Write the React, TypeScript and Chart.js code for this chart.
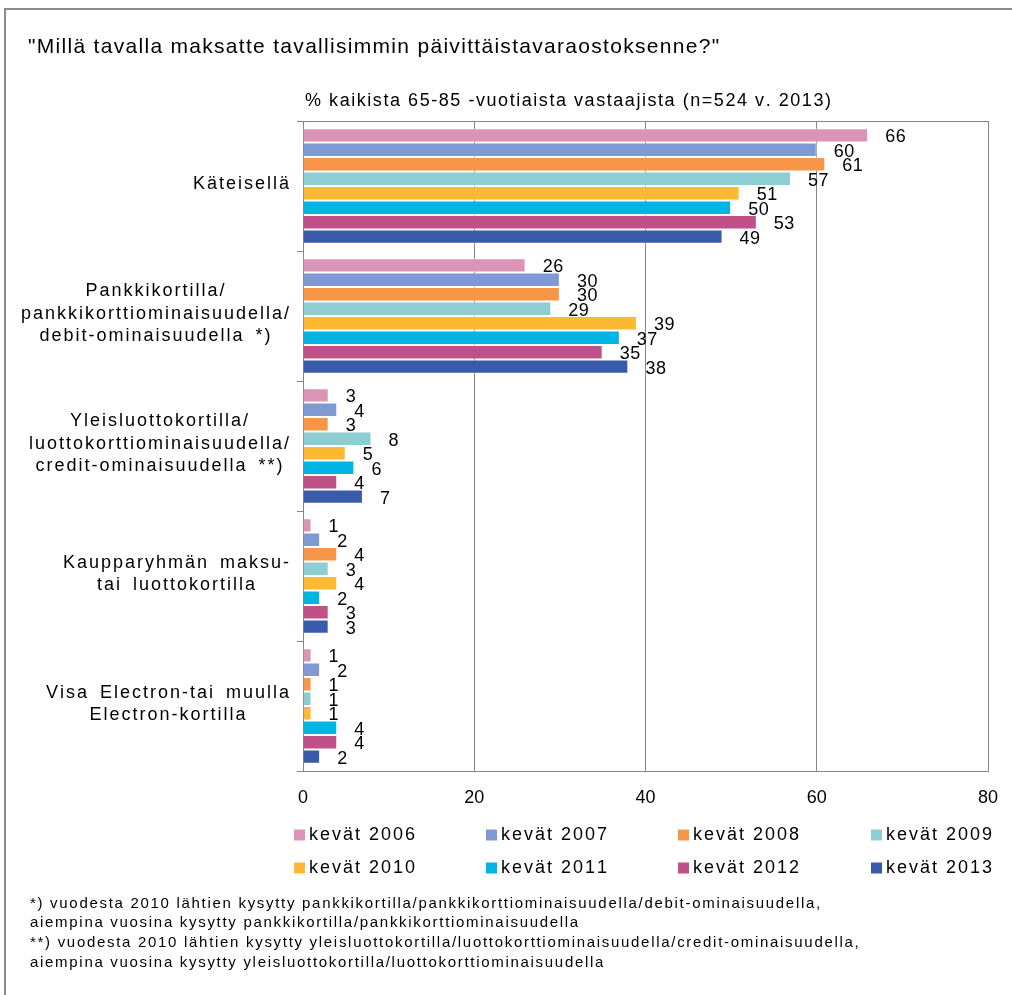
import React, { useEffect, useRef } from "react";
import { Chart, registerables } from "chart.js";
Chart.register(...registerables);

const titleText = '"Millä tavalla maksatte tavallisimmin päivittäistavaraostoksenne?"';
const subtitleText = "% kaikista 65-85 -vuotiaista vastaajista (n=524 v. 2013)";
const categories: string[][] = [
  ["Käteisellä"],
  ["Pankkikortilla/", "pankkikorttiominaisuudella/", "debit-ominaisuudella *)"],
  ["Yleisluottokortilla/", "luottokorttiominaisuudella/", "credit-ominaisuudella **)"],
  ["Kaupparyhmän maksu-", "tai luottokortilla"],
  ["Visa Electron-tai muulla", "Electron-kortilla"],
];
const seriesNames = ["kevät 2006", "kevät 2007", "kevät 2008", "kevät 2009", "kevät 2010", "kevät 2011", "kevät 2012", "kevät 2013"];
const v2006 = [66, 26, 3, 1, 1];
const v2007 = [60, 30, 4, 2, 2];
const v2008 = [61, 30, 3, 4, 1];
const v2009 = [57, 29, 8, 3, 1];
const v2010 = [51, 39, 5, 4, 1];
const v2011 = [50, 37, 6, 2, 4];
const v2012 = [53, 35, 4, 3, 4];
const v2013 = [49, 38, 7, 3, 2];
const seriesValues = [v2006, v2007, v2008, v2009, v2010, v2011, v2012, v2013];
const seriesColors = ["#DB94B6", "#7F99D3", "#F79646", "#8ECED3", "#FDB931", "#00B4E3", "#C05188", "#3A5BAA"];
const xTicks = [0, 20, 40, 60, 80];
const footnotes = [
  "*) vuodesta 2010 lähtien kysytty pankkikortilla/pankkikorttiominaisuudella/debit-ominaisuudella,",
  "aiempina vuosina kysytty pankkikortilla/pankkikorttiominaisuudella",
  "**) vuodesta 2010 lähtien kysytty yleisluottokortilla/luottokorttiominaisuudella/credit-ominaisuudella,",
  "aiempina vuosina kysytty yleisluottokortilla/luottokorttiominaisuudella",
];

const FONT = '"Liberation Sans", Arial, sans-serif';
const GRID = "#868686";

function spacedWidth(ctx: CanvasRenderingContext2D, text: string, sp: number, spaceExtra = 0) {
  let w = 0;
  for (const ch of text) w += ctx.measureText(ch).width + sp + (ch === " " ? spaceExtra : 0);
  return w - sp;
}
function drawSpaced(
  ctx: CanvasRenderingContext2D,
  text: string,
  x: number,
  y: number,
  sp: number,
  align: "left" | "center" | "right",
  spaceExtra = 0
) {
  const w = spacedWidth(ctx, text, sp, spaceExtra);
  let cx = align === "center" ? x - w / 2 : align === "right" ? x - w : x;
  ctx.textAlign = "left";
  for (const ch of text) {
    ctx.fillText(ch, cx, y);
    cx += ctx.measureText(ch).width + sp + (ch === " " ? spaceExtra : 0);
  }
}

const decorPlugin = {
  id: "decor",
  beforeDraw(chart: any) {
    const ctx = chart.ctx as CanvasRenderingContext2D;
    ctx.save();
    ctx.fillStyle = "#fff";
    ctx.fillRect(0, 0, chart.width, chart.height);
    // frame
    ctx.strokeStyle = "#8c8c8c";
    ctx.lineWidth = 2;
    ctx.beginPath();
    ctx.moveTo(5, chart.height);
    ctx.lineTo(5, 9);
    ctx.lineTo(chart.width, 9);
    ctx.stroke();
    ctx.fillStyle = "#000";
    ctx.textBaseline = "middle";
    ctx.font = `21px ${FONT}`;
    drawSpaced(ctx, titleText, 28, 47, 1.3, "left");
    ctx.font = `18px ${FONT}`;
    drawSpaced(ctx, subtitleText, 305, 101, 1.55, "left");
    ctx.font = `15px ${FONT}`;
    const fy = [904, 923, 943, 963];
    footnotes.forEach((t, i) => drawSpaced(ctx, t, 30, fy[i], 1.7, "left"));
    // legend
    ctx.font = `18px ${FONT}`;
    const colX = [294, 486, 678, 871];
    const rowY = [835, 868];
    seriesNames.forEach((name, i) => {
      const x = colX[i % 4];
      const y = rowY[Math.floor(i / 4)];
      ctx.fillStyle = seriesColors[i];
      ctx.fillRect(x, y - 5.5, 11, 11);
      ctx.fillStyle = "#000";
      drawSpaced(ctx, name, x + 15, y, 2, "left");
    });
    ctx.restore();
  },
  afterDraw(chart: any) {
    const ctx = chart.ctx as CanvasRenderingContext2D;
    const a = chart.chartArea;
    const ys = chart.scales.y;
    ctx.save();
    ctx.strokeStyle = GRID;
    ctx.lineWidth = 1;
    ctx.beginPath();
    ctx.moveTo(a.left, a.top + 0.5);
    ctx.lineTo(a.right, a.top + 0.5);
    ctx.stroke();
    // category labels
    ctx.fillStyle = "#000";
    ctx.textBaseline = "middle";
    ctx.font = `18px ${FONT}`;
    const sp = 2;
    const spX = 4;
    const lh = 22.5;
    categories.forEach((lines, i) => {
      const cy = ys.getPixelForValue(i);
      const bw = Math.max(...lines.map((l) => spacedWidth(ctx, l, sp, spX)));
      const right = 289;
      const cx = right - bw / 2;
      const y0 = cy - ((lines.length - 1) * lh) / 2 - 2;
      lines.forEach((l, j) => drawSpaced(ctx, l, cx, y0 + j * lh, sp, "center", spX));
    });
    // data labels
    ctx.font = `18px ${FONT}`;
    chart.data.datasets.forEach((ds: any, di: number) => {
      const meta = chart.getDatasetMeta(di);
      meta.data.forEach((el: any, k: number) => {
        drawSpaced(ctx, String(ds.data[k]), el.x + 17, el.y + 2, 0.5, "left");
      });
    });
    ctx.restore();
  },
};

export default function App() {
  const ref = useRef<HTMLCanvasElement>(null);
  useEffect(() => {
    if (!ref.current) return;
    const chart = new Chart(ref.current, {
      type: "bar",
      data: {
        labels: categories.map((c) => c.join(" ")),
        datasets: seriesNames.map((n, i) => ({
          label: n,
          data: seriesValues[i],
          backgroundColor: seriesColors[i],
          borderColor: "rgba(255,255,255,0.55)",
          borderWidth: 1,
          categoryPercentage: 0.89,
          barPercentage: 1,
        })),
      },
      options: {
        responsive: false,
        animation: false,
        indexAxis: "y",
        layout: { padding: { left: 0, top: 121, right: 24, bottom: 184 } },
        plugins: { legend: { display: false }, tooltip: { enabled: false }, title: { display: false } },
        scales: {
          x: {
            min: 0,
            max: 80,
            afterBuildTicks: (s: any) => {
              s.ticks = xTicks.map((v) => ({ value: v }));
            },
            ticks: { font: { family: FONT, size: 18 }, color: "#000", padding: 16 },
            grid: { color: GRID, drawTicks: false },
            border: { color: GRID },
            afterFit: (s: any) => {
              s.height = 40;
              s.paddingLeft = 0;
              s.paddingRight = 0;
            },
          },
          y: {
            ticks: { display: false },
            grid: { drawOnChartArea: false, color: GRID, tickLength: 6, offset: true },
            border: { color: GRID },
            afterFit: (s: any) => {
              s.width = 303;
            },
          },
        },
      },
      plugins: [decorPlugin],
    } as any);
    return () => chart.destroy();
  }, []);
  return (
    <div style={{ position: "absolute", left: 0, top: 0, width: 1012, height: 995 }}>
      <canvas ref={ref} width={1012} height={995} style={{ display: "block" }} />
    </div>
  );
}
